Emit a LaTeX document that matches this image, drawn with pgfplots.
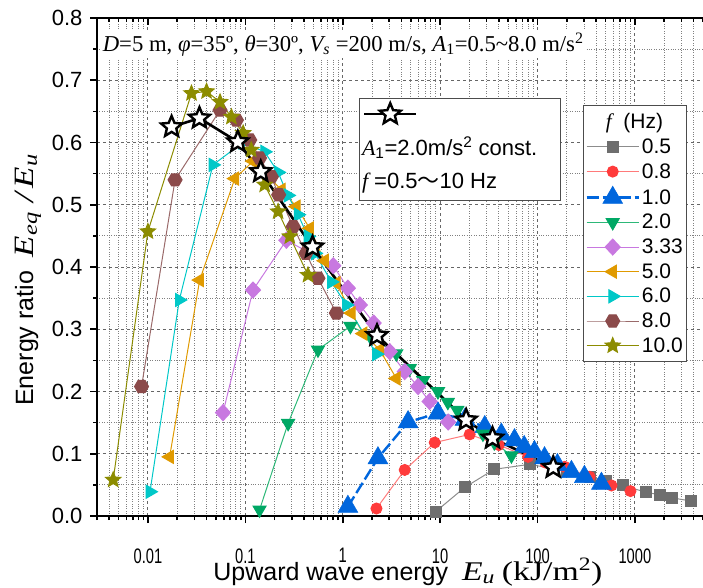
\documentclass[border=0pt]{standalone}
\usepackage{fontspec}
\setmainfont{Liberation Sans}
\newfontfamily\tnr{Liberation Serif}
\newfontfamily\tnrwide[FakeStretch=1.25]{Liberation Serif}
\newfontfamily\narrow[FakeStretch=0.7]{Liberation Sans}
\newfontfamily\cjk{Noto Sans CJK JP}
\usepackage{pgfplots}
\pgfplotsset{compat=1.18}

\definecolor{mgray}{HTML}{6E6E6E}
\definecolor{lgray}{HTML}{8C8C8C}
\definecolor{mred}{HTML}{FF3B3B}
\definecolor{lred}{HTML}{FF7A7A}
\definecolor{mblue}{HTML}{0066DD}
\definecolor{mgreen}{HTML}{00A865}
\definecolor{lgreen}{HTML}{2DB878}
\definecolor{mpurple}{HTML}{C878E0}
\definecolor{morange}{HTML}{E09A00}
\definecolor{mcyan}{HTML}{00C8C8}
\definecolor{mbrown}{HTML}{8B4A4A}
\definecolor{lbrown}{HTML}{9A6A6A}
\definecolor{molive}{HTML}{8C8C00}

% five-point star and hexagon marks
\pgfdeclareplotmark{fivestar}{%
  \pgfpathmoveto{\pgfpointpolar{90}{\pgfplotmarksize}}%
  \pgfpathlineto{\pgfpointpolar{126}{0.45\pgfplotmarksize}}%
  \pgfpathlineto{\pgfpointpolar{162}{\pgfplotmarksize}}%
  \pgfpathlineto{\pgfpointpolar{198}{0.45\pgfplotmarksize}}%
  \pgfpathlineto{\pgfpointpolar{234}{\pgfplotmarksize}}%
  \pgfpathlineto{\pgfpointpolar{270}{0.45\pgfplotmarksize}}%
  \pgfpathlineto{\pgfpointpolar{306}{\pgfplotmarksize}}%
  \pgfpathlineto{\pgfpointpolar{342}{0.45\pgfplotmarksize}}%
  \pgfpathlineto{\pgfpointpolar{18}{\pgfplotmarksize}}%
  \pgfpathlineto{\pgfpointpolar{54}{0.45\pgfplotmarksize}}%
  \pgfpathclose
  \pgfusepathqfillstroke}
\pgfdeclareplotmark{hexagon*}{%
  \pgfpathmoveto{\pgfpointpolar{0}{\pgfplotmarksize}}%
  \pgfpathlineto{\pgfpointpolar{60}{\pgfplotmarksize}}%
  \pgfpathlineto{\pgfpointpolar{120}{\pgfplotmarksize}}%
  \pgfpathlineto{\pgfpointpolar{180}{\pgfplotmarksize}}%
  \pgfpathlineto{\pgfpointpolar{240}{\pgfplotmarksize}}%
  \pgfpathlineto{\pgfpointpolar{300}{\pgfplotmarksize}}%
  \pgfpathclose
  \pgfusepathqfillstroke}

\pgfplotsset{
  legend image code/.code = {
    \draw[mark repeat=2, mark phase=2] plot coordinates {(0pt,0pt) (26pt,0pt) (52pt,0pt)};
  }
}

\begin{document}
\begin{tikzpicture}
\path[use as bounding box] (-97pt,-72pt) rectangle (606pt,516pt);
\begin{axis}[
  scale only axis,
  width = 606pt, height = 498pt,
  xmode = log, xmin = 0.003, xmax = 5000,
  ymin = 0, ymax = 0.8,
  xtick = {0.01, 0.1, 1, 10, 100, 1000},
  minor xtick = {0.003,0.004,0.005,0.006,0.007,0.008,0.009,
    0.02,0.03,0.04,0.05,0.06,0.07,0.08,0.09,
    0.2,0.3,0.4,0.5,0.6,0.7,0.8,0.9,
    2,3,4,5,6,7,8,9,20,30,40,50,60,70,80,90,
    200,300,400,500,600,700,800,900,2000,3000,4000,5000},
  ytick = {0,0.1,0.2,0.3,0.4,0.5,0.6,0.7,0.8},
  minor ytick = {0.05,0.15,0.25,0.35,0.45,0.55,0.65,0.75},
  at = {(0pt,0pt)}, anchor = south west,
  axis x line* = bottom, axis y line* = left,
  axis line style = {line width = 2.2pt, -},
  tick align = outside,
  major tick length = 7pt, minor tick length = 4pt,
  tick style = {line width = 1.6pt, black},
  grid = both,
  major grid style = {dashed, black!60, line width = 0.9pt},
  minor grid style = {dotted, black!50, line width = 0.8pt},
  xticklabels = {0.01, 0.1, 1, 10, 100, 1000},
  xticklabel style = {font = \narrow\fontsize{21}{21}\selectfont, yshift = -22pt},
  yticklabel style = {font = \fontsize{22}{22}\selectfont, xshift = -4pt},
  yticklabel = {\pgfmathprintnumber[fixed, fixed zerofill, precision=1]{\tick}},
  /pgf/number format/assume math mode = true,
  xlabel = {Upward wave energy\ \ {\tnrwide\fontsize{27}{27}\selectfont\itshape E\textsubscript{u}}\ {\tnrwide\fontsize{27}{27}\selectfont (kJ/m\textsuperscript{2})}},
  xlabel style = {font = \fontsize{25}{25}\selectfont, at = {(rel axis cs:0.513,0)}, anchor = base, yshift = -64pt},
  ylabel = {Energy ratio\ \ {\tnrwide\fontsize{28}{28}\selectfont\itshape E\textsubscript{eq}\,\,/\,E\textsubscript{u}}},
  ylabel style = {font = \fontsize{25}{25}\selectfont, at = {(rel axis cs:-0.114,0.474)}, anchor = center},
  legend style = {at = {(rel axis cs:0.802,0.825)}, anchor = north west,
    draw = black!70, line width = 1pt, fill = white,
    font = \fontsize{21}{21}\selectfont, row sep = 4.5pt,
    inner xsep = 2pt, inner ysep = 6pt},
  legend cell align = left,
]
\addlegendimage{empty legend}
\addlegendentry{\hspace*{-36pt}{\tnr\itshape f}\ \ (Hz)\rule[-9.5pt]{0pt}{9.5pt}}

% f = 0.5 Hz
\addplot[draw = lgray, line width = 1pt, mark = square*, mark size = 5.5pt,
  mark options = {draw = mgray, fill = mgray}] coordinates {
  (9.0,0.007) (17.9,0.046) (36,0.075) (83,0.083) (200,0.072) (343,0.063)
  (500,0.056) (755,0.049) (1310,0.038) (1800,0.034) (2430,0.029) (3800,0.024)};
\addlegendentry{0.5}
% f = 0.8 Hz
\addplot[draw = lred, line width = 1pt, mark = *, mark size = 5.5pt,
  mark options = {draw = mred, fill = mred}] coordinates {
  (2.22,0.012) (4.33,0.074) (8.8,0.118) (20.1,0.131) (40,0.114) (80,0.095)
  (120,0.086) (190,0.079) (343,0.063) (575,0.049) (900,0.040)};
\addlegendentry{0.8}
% f = 1.0 Hz
\addplot[draw = mblue, line width = 2.4pt, dash pattern = on 12pt off 4pt,
  mark = triangle*, mark size = 11.5pt,
  mark options = {solid, draw = mblue, fill = mblue, line width = 0.5pt}] coordinates {
  (1.13,0.015) (2.3,0.093) (4.69,0.151) (9.5,0.165) (18,0.155) (28.7,0.143)
  (42.5,0.131) (58,0.122) (73,0.111) (93,0.103) (118,0.093) (160,0.082)
  (223,0.071) (303,0.063) (453,0.052)};
\addlegendentry{1.0}
% f = 2.0 Hz
\addplot[draw = lgreen, line width = 1pt, mark = triangle*, mark size = 7.5pt,
  mark options = {draw = mgreen, fill = mgreen, rotate = 180}] coordinates {
  (0.14,0.010) (0.275,0.149) (0.557,0.267) (1.2,0.305) (1.9,0.29) (3.55,0.261)
  (4.87,0.237) (6.7,0.218) (9.5,0.200) (12,0.183) (15,0.170) (27.5,0.132)
  (36,0.118) (54,0.097)};
\addlegendentry{2.0}
% f = 3.33 Hz
\addplot[draw = mpurple, line width = 1pt, mark = diamond*, mark size = 8pt,
  mark options = {draw = mpurple, fill = mpurple, xscale = 1.25}] coordinates {
  (0.059,0.166) (0.12,0.363) (0.264,0.443) (0.8,0.402) (1.13,0.366) (1.5,0.339)
  (2.08,0.310) (3.04,0.264) (4.33,0.232) (5.94,0.208) (7.8,0.184) (12.1,0.151)};
\addlegendentry{3.33}
% f = 5.0 Hz
\addplot[draw = morange, line width = 1pt, mark = triangle*, mark size = 7.5pt,
  mark options = {draw = morange, fill = morange, rotate = 90}] coordinates {
  (0.0167,0.095) (0.034,0.379) (0.078,0.542) (0.12,0.570) (0.235,0.524)
  (0.334,0.497) (0.458,0.462) (0.65,0.410) (0.86,0.374) (1.23,0.326)
  (1.62,0.293) (2.4,0.267) (3.55,0.221)};
\addlegendentry{5.0}
% f = 6.0 Hz
\addplot[draw = mcyan, line width = 1pt, mark = triangle*, mark size = 7.5pt,
  mark options = {draw = mcyan, fill = mcyan, rotate = -90}] coordinates {
  (0.0105,0.039) (0.021,0.347) (0.0465,0.564) (0.094,0.600) (0.158,0.585)
  (0.217,0.552) (0.274,0.515) (0.348,0.484) (0.44,0.449) (0.52,0.422)
  (0.765,0.376) (1.09,0.339) (2.22,0.260)};
\addlegendentry{6.0}
% f = 8.0 Hz
\addplot[draw = lbrown, line width = 1pt, mark = hexagon*, mark size = 7pt,
  mark options = {draw = mbrown, fill = mbrown}] coordinates {
  (0.0086,0.208) (0.019,0.540) (0.055,0.652) (0.081,0.636) (0.111,0.604)
  (0.14,0.575) (0.185,0.545) (0.22,0.516) (0.31,0.465) (0.42,0.422)
  (0.557,0.382) (0.86,0.326)};
\addlegendentry{8.0}
% f = 10.0 Hz
\addplot[draw = molive, line width = 1pt, mark = fivestar, mark size = 8pt,
  mark options = {draw = molive, fill = molive}] coordinates {
  (0.0044,0.058) (0.010,0.457) (0.028,0.679) (0.040,0.682) (0.055,0.665)
  (0.072,0.641) (0.095,0.615) (0.115,0.588) (0.158,0.532) (0.217,0.489)
  (0.286,0.449) (0.44,0.387)};
\addlegendentry{10.0}
% A1 = 2.0 m/s2 const.
\addplot[forget plot, draw = black, line width = 2.6pt, mark = fivestar, mark size = 11pt,
  mark options = {draw = black, fill = white, line width = 2.4pt}] coordinates {
  (0.0175,0.625) (0.0338,0.639) (0.0837,0.601) (0.144,0.553) (0.49,0.432)
  (2.25,0.290) (18.5,0.154) (34.5,0.125) (145,0.078)};

\node[fill = white, anchor = west, inner xsep = 2pt, inner ysep = 2pt,
  font = \tnr\fontsize{22.7}{23}\selectfont] at (rel axis cs:0.006,0.946)
  {{\itshape D}=5 m, {\itshape φ}=35º, {\itshape θ}=30º, {\itshape V}\textsubscript{\itshape s} =200 m/s, {\itshape A}\textsubscript{1}=0.5\textasciitilde 8.0 m/s\textsuperscript{2}};
\node[draw = black!70, line width = 1pt, fill = white, anchor = north west,
  minimum width = 201pt, minimum height = 102pt, inner sep = 0pt]
  at (rel axis cs:0.432,0.839) {};
\node[anchor = west, inner sep = 0pt, font = \fontsize{22}{22}\selectfont]
  at (rel axis cs:0.437,0.739)
  {{\tnr\itshape A}\textsubscript{1}=2.0m/s\textsuperscript{2} const.};
\node[anchor = west, inner sep = 0pt, font = \fontsize{22}{22}\selectfont]
  at (rel axis cs:0.437,0.669)
  {{\tnr\itshape f} =0.5{\cjk 〜}10 Hz};
\end{axis}

% top axis line with inward ticks, and the sample of the black star series
\begin{axis}[
  scale only axis,
  width = 606pt, height = 498pt,
  xmode = log, xmin = 0.003, xmax = 5000,
  ymin = 0, ymax = 0.8,
  xtick = {0.01, 0.1, 1, 10, 100, 1000},
  minor xtick = {0.003,0.004,0.005,0.006,0.007,0.008,0.009,
    0.02,0.03,0.04,0.05,0.06,0.07,0.08,0.09,
    0.2,0.3,0.4,0.5,0.6,0.7,0.8,0.9,
    2,3,4,5,6,7,8,9,20,30,40,50,60,70,80,90,
    200,300,400,500,600,700,800,900,2000,3000,4000,5000},
  at = {(0pt,0pt)}, anchor = south west,
  hide y axis,
  axis x line* = top,
  axis line style = {line width = 2.2pt, -},
  tick align = inside,
  major tick length = 7pt, minor tick length = 4pt,
  tick style = {line width = 1.6pt, black},
  xticklabels = {},
  legend style = {at = {(rel axis cs:0.4385,0.809)}, anchor = west,
    draw = none, fill = none, inner sep = 0pt},
  legend image code/.code = {
    \draw[mark = none] (-6pt,0pt) -- (46pt,0pt);
    \draw[only marks] plot coordinates {(20pt,0pt)};
  },
]
\addlegendimage{black, line width = 2.6pt, mark = fivestar, mark size = 11pt,
  mark options = {draw = black, fill = white, line width = 2.4pt}}
\addlegendentry{}
\end{axis}
\end{tikzpicture}
\end{document}
